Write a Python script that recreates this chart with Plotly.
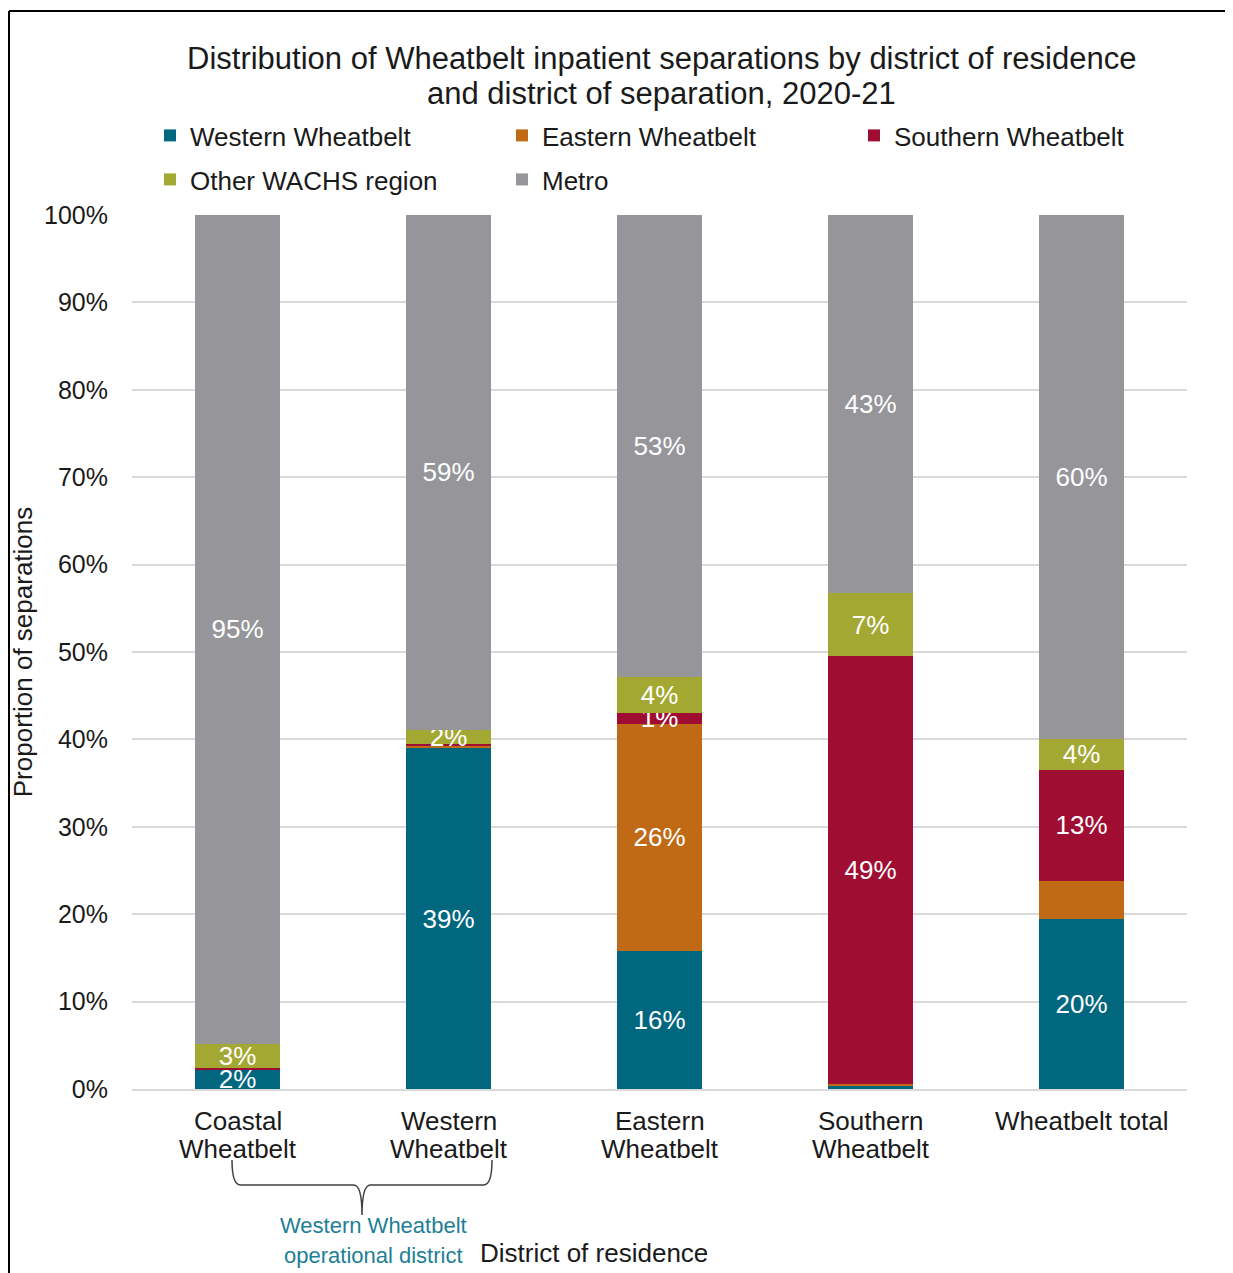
import plotly.graph_objects as go

categories = ["Coastal Wheatbelt", "Western Wheatbelt", "Eastern Wheatbelt",
              "Southern Wheatbelt", "Wheatbelt total"]
category_lines = [["Coastal", "Wheatbelt"], ["Western", "Wheatbelt"], ["Eastern", "Wheatbelt"],
                  ["Southern", "Wheatbelt"], ["Wheatbelt total"]]
western_wb = [2.2, 39.0, 15.8, 0.3, 19.5]
eastern_wb = [0.05, 0.3, 26.0, 0.3, 4.3]
southern_wb = [0.1, 0.2, 1.2, 48.9, 12.7]
other_wachs = [2.8, 1.6, 4.1, 7.2, 3.6]
metro = [94.85, 58.9, 52.9, 43.3, 59.9]
y_ticks = list(range(0, 101, 10))
y_tick_labels = [f"{v}%" for v in y_ticks]

series = [
    ("Western Wheatbelt", western_wb, "#00677F"),
    ("Eastern Wheatbelt", eastern_wb, "#C06A16"),
    ("Southern Wheatbelt", southern_wb, "#A00D32"),
    ("Other WACHS region", other_wachs, "#A3A833"),
    ("Metro", metro, "#96969A"),
]
# segments whose label is not shown in the original
hidden_labels = {("Eastern Wheatbelt", 4)}

FONT = "Arial, Liberation Sans, sans-serif"
TXT = "#1a1a1a"

W, H = 1233, 1273
OFF = 8  # page body margin
L, R, T, B = 124, 54, 207, 192
pw, ph = W - L - R, H - T - B


def sx(x):  # screen x -> paper
    return (x - OFF - L) / pw


def sy(y):  # screen y -> paper
    return (H - B - (y - OFF)) / ph


# legend placement (column text start, row centre) in screen px
legend_pos = [(190, 135), (542, 135), (894, 135), (190, 179), (542, 179)]

fig = go.Figure()
layout_legends = {}
for k, (name, vals, color) in enumerate(series):
    tt = []
    for i, v in enumerate(vals):
        tt.append("%{y:.0f}%" if (v >= 1 and (name, i) not in hidden_labels) else "")
    lname = "legend" if k == 0 else f"legend{k+1}"
    fig.add_trace(go.Bar(
        name=name, x=categories, y=vals, marker=dict(color=color, line=dict(width=0)),
        texttemplate=tt, textposition="inside", insidetextanchor="middle",
        textangle=0, constraintext="none",
        textfont=dict(color="white", size=26, family=FONT),
        hoverinfo="name+y", legend=lname,
    ))
    tx, ty = legend_pos[k]
    layout_legends[lname] = dict(
        x=sx(tx - 40), xanchor="left", y=sy(ty - 23), yanchor="top",
        bgcolor="rgba(0,0,0,0)", font=dict(size=26, family=FONT, color=TXT),
        itemclick=False, itemdoubleclick=False,
    )

fig.update_layout(
    width=W, height=H, barmode="stack", bargap=0.6,
    plot_bgcolor="white", paper_bgcolor="white",
    margin=dict(l=L, r=R, t=T, b=B, autoexpand=False),
    font=dict(family=FONT, size=25, color=TXT),
    showlegend=True,
    **layout_legends,
)
fig.update_yaxes(range=[0, 100], tickvals=y_ticks, ticktext=y_tick_labels,
                 showgrid=True, gridcolor="#D9D9D9", gridwidth=2, zeroline=False,
                 ticks="", ticklabelstandoff=23, automargin=False,
                 title=dict(text="Proportion of separations", standoff=13,
                            font=dict(size=26, family=FONT, color=TXT)),
                 tickfont=dict(size=25, color=TXT))
fig.update_xaxes(showline=True, linecolor="#D9D9D9", linewidth=2, ticks="",
                 showticklabels=False, automargin=False)

# category labels (two tight lines as in the original)
line_y = [1121, 1149]
for cat, lines in zip(categories, category_lines):
    for j, ln in enumerate(lines):
        fig.add_annotation(text=ln, xref="x", yref="paper", x=cat, y=sy(line_y[j]),
                           xanchor="center", yanchor="middle", showarrow=False,
                           font=dict(size=26, family=FONT, color=TXT))

# title (two lines)
for txt, yy in [("Distribution of Wheatbelt inpatient separations by district of residence", 58),
                ("and district of separation, 2020-21", 94)]:
    fig.add_annotation(text=txt, xref="paper", yref="paper", x=sx(661), y=sy(yy),
                       xanchor="center", yanchor="middle", showarrow=False,
                       font=dict(size=31, family=FONT, color=TXT))

# bracket under the first two categories
bx0, bx1, bmid = sx(232), sx(492), sx(362)
yb_top, yb_line, yb_tip = sy(1160), sy(1185), sy(1215)
dx = 0.008
path = (f"M {bx0},{yb_top} Q {bx0},{yb_line} {bx0+dx},{yb_line} "
        f"L {bmid-dx},{yb_line} Q {bmid},{yb_line} {bmid},{yb_tip} "
        f"Q {bmid},{yb_line} {bmid+dx},{yb_line} "
        f"L {bx1-dx},{yb_line} Q {bx1},{yb_line} {bx1},{yb_top}")
fig.add_shape(type="path", xref="paper", yref="paper", path=path,
              line=dict(color="#404040", width=1.5))

# outer border (left and top edges)
bl = sx(OFF + 1)
fig.add_shape(type="line", xref="paper", yref="paper", x0=bl, x1=bl, y0=sy(11), y1=sy(1300),
              line=dict(color="black", width=2))
fig.add_shape(type="line", xref="paper", yref="paper", x0=bl, x1=sx(1260), y0=sy(11), y1=sy(11),
              line=dict(color="black", width=2))

for txt, yy in [("Western Wheatbelt", 1225), ("operational district", 1255)]:
    fig.add_annotation(text=txt, xref="paper", yref="paper",
                       x=sx(373), y=sy(yy), xanchor="center", yanchor="middle", showarrow=False,
                       font=dict(size=22, color="#1E7F95", family=FONT))
fig.add_annotation(text="District of residence", xref="paper", yref="paper",
                   x=sx(478), y=sy(1253), xanchor="left", yanchor="middle", showarrow=False,
                   font=dict(size=26, color=TXT, family=FONT))

fig.write_html("out.html")
